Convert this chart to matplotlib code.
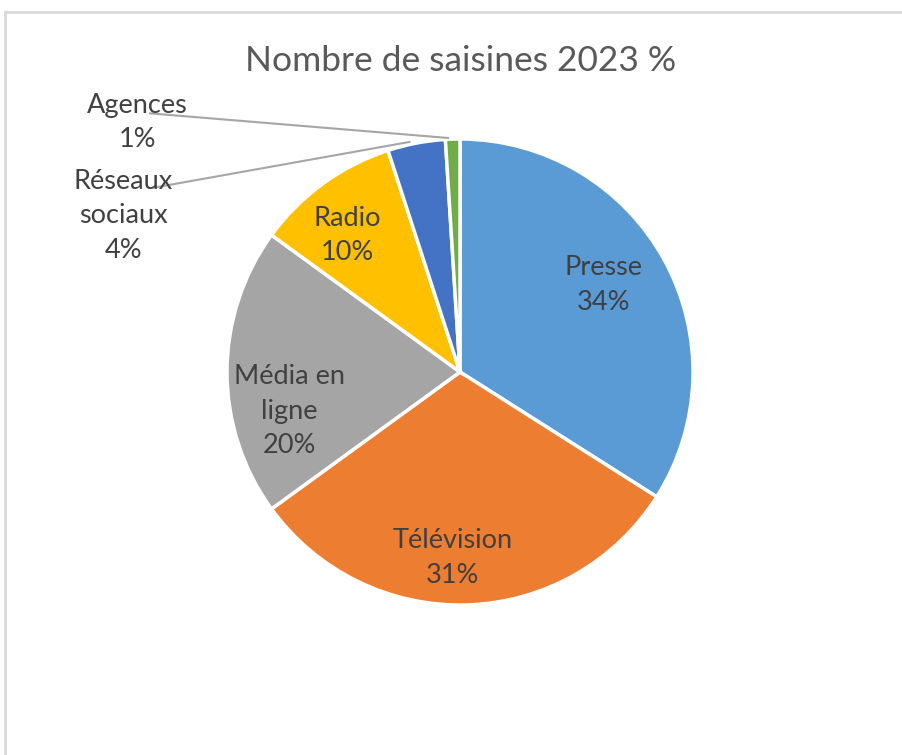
import matplotlib
matplotlib.use("Agg")
import matplotlib.pyplot as plt
import numpy as np

categories = ["Presse", "Télévision", "Média en ligne", "Radio", "Réseaux sociaux", "Agences"]
values = [34, 31, 20, 10, 4, 1]
label_texts = ["Presse\n34%", "Télévision\n31%", "Média en\nligne\n20%", "Radio\n10%",
               "Réseaux\nsociaux\n4%", "Agences\n1%"]
colors = ["#5B9BD5", "#ED7D31", "#A5A5A5", "#FFC000", "#4472C4", "#70AD47"]
title = "Nombre de saisines 2023 %"

W, H = 903, 755
fig = plt.figure(figsize=(W / 100, H / 100), dpi=100)
plt.rcParams['font.family'] = ['Lato', 'DejaVu Sans']

# frame border
fig.add_artist(plt.Line2D([5 / W, 5 / W], [0, 1 - 12 / H], color="#D9D9D9", lw=2, transform=fig.transFigure))
fig.add_artist(plt.Line2D([5 / W, 1], [1 - 12 / H, 1 - 12 / H], color="#D9D9D9", lw=2, transform=fig.transFigure))

cx, cy, r = 460, 372, 233
ax = fig.add_axes([(cx - r) / W, (H - cy - r) / H, 2 * r / W, 2 * r / H])
wedges, _ = ax.pie(values, colors=colors, startangle=90, counterclock=False, radius=1,
                   wedgeprops=dict(edgecolor="white", linewidth=2.5))
ax.set_xlim(-1, 1)
ax.set_ylim(-1, 1)
ax.set_aspect("auto")
ax.axis("off")

txtcol = "#404040"
fs = 19.5
ls = 1.48
inner_r = [0.72, 0.80, 0.75, 0.76]
inner_dang = [2.5, -4.0, 13.0, 3.5]
for i in range(4):
    w = wedges[i]
    ang = np.deg2rad((w.theta1 + w.theta2) / 2 + inner_dang[i])
    ax.text(inner_r[i] * np.cos(ang), inner_r[i] * np.sin(ang), label_texts[i],
            ha="center", va="center", fontsize=fs, color=txtcol, linespacing=ls)

# outside labels with leader lines (positions relative to pie radius)
out_pos = {4: (-1.445, 0.67), 5: (-1.385, 1.07)}
line_start = {4: (-1.32, 0.79), 5: (-1.33, 1.11)}
for i in (4, 5):
    w = wedges[i]
    ang = np.deg2rad((w.theta1 + w.theta2) / 2)
    ex, ey = 1.0 * np.cos(ang), 1.0 * np.sin(ang) + 0.005
    sx, sy = line_start[i]
    if i == 4:
        ex -= 0.03
    else:
        ex -= 0.02
    ax.plot([sx, ex], [sy, ey], color="#A6A6A6", lw=1.5, clip_on=False)
    ax.text(out_pos[i][0], out_pos[i][1], label_texts[i], ha="center", va="center",
            fontsize=fs, color=txtcol, linespacing=ls)

fig.text(461 / W, 1 - 61 / H, title, ha="center", va="center", fontsize=25.5, color="#595959")

fig.savefig("out.png", dpi=100)
